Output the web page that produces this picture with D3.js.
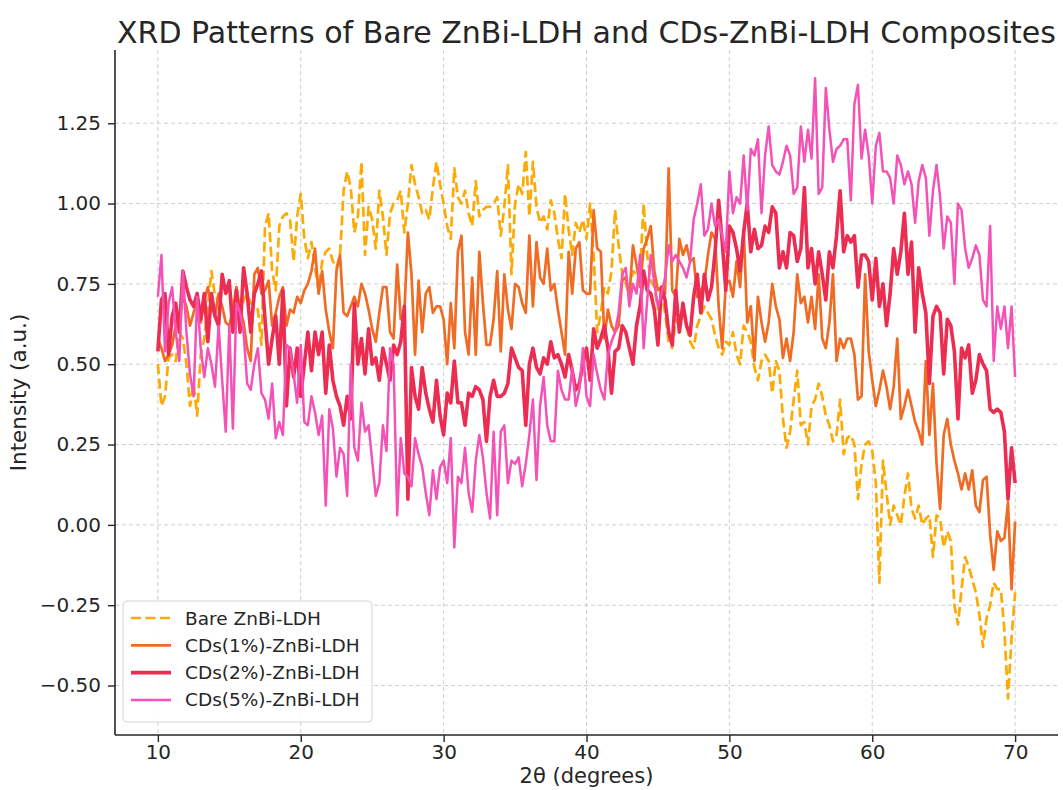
<!DOCTYPE html>
<meta charset="utf-8">
<style>
  body { margin: 0; background: #fff; }
  text { font-family: "DejaVu Sans", sans-serif; fill: #262626; }
</style>
<script src="https://d3js.org/d3.v7.min.js"></script>
<div id="chart"></div>
<script>
// 2theta sampling grid: 10 to 70 in 0.25 degree steps
var twoTheta = d3.range(241).map(function(i) { return 10 + i * 0.25; });

var bare = [
  0.50,0.37,0.40,0.52,0.53,0.51,0.60,0.58,0.50,0.37,
  0.44,0.34,0.53,0.58,0.68,0.79,0.71,0.70,0.72,0.72,
  0.74,0.67,0.74,0.64,0.70,0.72,0.69,0.68,0.67,0.56,
  0.93,0.97,0.79,0.73,0.93,0.96,0.97,0.95,0.82,0.96,
  1.03,0.89,0.83,0.88,0.80,0.73,0.82,0.85,0.86,0.82,
  0.80,0.84,1.04,1.10,1.05,0.91,0.96,1.13,0.84,0.99,
  0.95,0.86,1.04,0.96,0.84,0.97,1.00,1.01,1.04,0.91,
  1.00,1.12,1.06,1.02,0.97,0.98,0.95,1.05,1.13,1.06,
  1.00,0.93,0.89,1.11,1.02,1.00,1.04,0.97,0.93,1.07,
  0.96,0.98,0.99,0.99,1.00,1.02,0.90,0.99,1.12,0.78,
  1.00,1.06,1.03,1.16,0.96,1.13,0.99,0.94,0.96,0.92,
  1.01,0.97,0.89,0.83,1.03,0.92,0.84,0.94,0.91,0.95,
  0.89,1.00,0.84,0.60,0.66,0.74,0.72,0.79,0.98,0.87,
  0.78,0.75,0.72,0.79,0.78,0.79,1.00,0.84,0.76,0.74,
  0.67,0.72,0.66,0.57,0.55,0.64,0.62,0.67,0.62,0.57,
  0.55,0.62,0.65,0.68,0.66,0.64,0.59,0.55,0.53,0.57,
  0.56,0.60,0.53,0.50,0.62,0.60,0.57,0.49,0.45,0.51,
  0.53,0.51,0.41,0.51,0.48,0.33,0.24,0.29,0.39,0.48,
  0.31,0.32,0.25,0.37,0.39,0.44,0.40,0.34,0.31,0.26,
  0.28,0.39,0.22,0.27,0.28,0.25,0.08,0.19,0.25,0.26,
  0.23,0.13,-0.18,0.20,0.10,0.00,0.06,0.03,0.00,0.09,
  0.16,0.05,0.02,0.06,0.00,0.02,0.03,-0.10,0.03,0.02,
  -0.07,-0.02,-0.05,-0.25,-0.31,-0.20,-0.10,-0.13,-0.17,-0.21,
  -0.28,-0.38,-0.29,-0.25,-0.18,-0.20,-0.20,-0.33,-0.54,-0.35,
  -0.21
];

var cds1 = [
  0.58,0.55,0.51,0.53,0.56,0.62,0.64,0.71,0.68,0.62,
  0.66,0.70,0.63,0.70,0.74,0.68,0.65,0.72,0.68,0.63,
  0.62,0.67,0.74,0.67,0.63,0.55,0.51,0.78,0.80,0.72,
  0.73,0.76,0.62,0.66,0.71,0.74,0.62,0.67,0.66,0.71,
  0.69,0.73,0.75,0.79,0.86,0.72,0.79,0.67,0.60,0.55,
  0.79,0.84,0.66,0.65,0.68,0.71,0.68,0.75,0.72,0.67,
  0.61,0.57,0.66,0.74,0.74,0.60,0.58,0.81,0.64,0.66,
  0.91,0.78,0.53,0.76,0.60,0.72,0.74,0.66,0.68,0.68,
  0.64,0.50,0.69,0.55,0.85,0.90,0.60,0.53,0.77,0.53,
  0.85,0.69,0.56,0.56,0.64,0.79,0.54,0.78,0.67,0.61,
  0.75,0.74,0.69,0.66,0.90,0.68,0.88,0.77,0.75,0.86,
  0.73,0.75,0.67,0.60,0.53,0.85,0.72,0.86,0.88,0.73,
  0.72,0.72,0.98,0.86,0.85,0.58,0.67,0.62,0.60,0.62,
  0.76,0.77,0.71,0.87,0.81,0.74,0.86,0.89,0.93,0.79,
  0.73,0.74,0.72,1.11,0.73,0.71,0.89,0.84,0.87,0.82,
  0.83,0.71,0.73,0.75,0.84,0.91,0.89,0.68,0.55,0.75,
  0.76,0.71,0.82,0.74,0.92,0.63,0.68,0.51,0.71,0.63,
  0.57,0.63,0.75,0.68,0.64,0.52,0.58,0.51,0.60,0.78,
  0.69,0.71,0.63,0.71,0.61,0.78,0.58,0.55,0.63,0.78,
  0.51,0.58,0.55,0.58,0.58,0.53,0.39,0.40,0.78,0.54,
  0.45,0.37,0.42,0.48,0.43,0.36,0.43,0.58,0.33,0.37,
  0.42,0.37,0.32,0.29,0.25,0.51,0.28,0.44,0.19,0.05,
  0.28,0.33,0.25,0.20,0.16,0.11,0.16,0.11,0.17,0.06,
  0.04,0.14,0.15,-0.03,-0.14,-0.02,-0.05,-0.04,0.07,-0.20,
  0.01
];

var cds2 = [
  0.54,0.70,0.72,0.53,0.65,0.69,0.60,0.79,0.74,0.70,
  0.68,0.72,0.64,0.72,0.57,0.72,0.65,0.62,0.78,0.72,
  0.76,0.60,0.73,0.60,0.80,0.72,0.60,0.72,0.75,0.79,
  0.64,0.50,0.58,0.65,0.50,0.73,0.37,0.55,0.46,0.55,
  0.40,0.50,0.60,0.48,0.60,0.53,0.60,0.41,0.56,0.45,
  0.40,0.37,0.31,0.40,0.33,0.69,0.50,0.58,0.47,0.61,
  0.50,0.52,0.45,0.55,0.50,0.45,0.56,0.53,0.57,0.68,
  0.08,0.49,0.40,0.36,0.49,0.41,0.36,0.32,0.45,0.34,
  0.28,0.41,0.38,0.51,0.38,0.38,0.31,0.41,0.40,0.43,
  0.42,0.39,0.26,0.40,0.45,0.40,0.40,0.41,0.44,0.55,
  0.52,0.49,0.48,0.31,0.50,0.55,0.49,0.47,0.52,0.50,
  0.57,0.52,0.53,0.50,0.46,0.53,0.48,0.42,0.44,0.50,
  0.55,0.45,0.61,0.55,0.58,0.62,0.55,0.41,0.54,0.55,
  0.62,0.60,0.55,0.50,0.62,0.68,0.79,0.73,0.72,0.67,
  0.56,0.74,0.70,0.60,0.56,0.73,0.60,0.69,0.62,0.59,
  0.71,0.78,0.66,0.78,0.70,0.74,0.85,1.01,0.88,0.73,
  0.93,0.91,0.86,0.79,0.91,1.00,0.85,0.92,0.86,0.87,
  0.93,0.91,0.99,0.97,0.80,0.85,0.80,0.91,0.90,0.82,
  0.86,1.05,0.80,0.86,0.75,0.85,0.78,0.70,0.85,0.80,
  0.90,1.04,0.85,0.90,0.88,0.90,0.74,0.84,0.84,0.82,
  0.70,0.83,0.68,0.75,0.62,0.72,0.86,0.78,0.85,0.97,
  0.78,0.88,0.60,0.80,0.72,0.66,0.44,0.65,0.68,0.66,
  0.47,0.64,0.62,0.54,0.33,0.55,0.52,0.56,0.41,0.45,
  0.53,0.50,0.48,0.36,0.35,0.36,0.35,0.29,0.08,0.24,
  0.13
];

var cds5 = [
  0.71,0.84,0.54,0.69,0.74,0.60,0.51,0.79,0.60,0.47,
  0.40,0.71,0.55,0.46,0.55,0.50,0.43,0.62,0.45,0.29,
  0.62,0.30,0.69,0.66,0.60,0.44,0.42,0.50,0.55,0.41,
  0.39,0.33,0.44,0.27,0.32,0.28,0.56,0.55,0.47,0.38,
  0.56,0.32,0.31,0.40,0.35,0.28,0.34,0.06,0.36,0.30,
  0.15,0.24,0.22,0.09,0.50,0.24,0.20,0.38,0.29,0.31,
  0.20,0.09,0.13,0.31,0.23,0.55,0.50,0.03,0.27,0.16,
  0.15,0.12,0.27,0.22,0.18,0.10,0.03,0.17,0.08,0.18,
  0.20,0.13,0.27,-0.07,0.15,0.13,0.24,0.10,0.04,0.20,
  0.28,0.21,0.10,0.02,0.29,0.03,0.29,0.31,0.13,0.20,
  0.19,0.21,0.12,0.19,0.28,0.39,0.14,0.37,0.46,0.31,
  0.26,0.26,0.48,0.42,0.39,0.39,0.49,0.37,0.42,0.55,
  0.40,0.37,0.53,0.47,0.42,0.39,0.53,0.57,0.60,0.66,
  0.78,0.80,0.68,0.75,0.72,0.84,0.55,0.70,0.84,0.75,
  0.68,0.72,0.77,0.87,0.82,0.84,0.82,0.80,0.77,0.82,
  0.95,1.00,1.06,0.90,0.92,1.00,0.93,0.95,0.90,0.85,
  1.10,0.97,1.02,1.00,1.15,0.98,1.17,1.15,1.20,0.97,
  1.15,1.24,1.12,1.10,1.09,1.13,1.18,1.15,1.03,1.05,
  1.24,1.13,1.23,1.14,1.39,1.03,1.05,1.36,1.23,1.13,
  1.17,1.18,1.20,1.20,1.01,1.31,1.37,1.14,1.23,1.15,
  1.00,1.18,1.22,1.10,1.10,1.08,1.00,1.15,1.12,1.06,
  1.10,1.06,0.94,1.07,1.12,1.08,0.90,1.04,1.12,1.02,
  0.86,0.96,0.94,0.75,1.00,0.98,0.86,0.80,0.83,0.87,
  0.84,0.70,0.68,0.93,0.51,0.68,0.61,0.68,0.55,0.68,
  0.46
];

var seriesNames = ["Bare ZnBi-LDH", "CDs(1%)-ZnBi-LDH", "CDs(2%)-ZnBi-LDH", "CDs(5%)-ZnBi-LDH"];
var seriesColors = ["#FBAA06", "#F06B23", "#EC2D52", "#F452B7"];
var seriesWidths = [2.7, 2.7, 3.6, 2.5];
var seriesDash = ["10,4.5", null, null, null];
var xTicks = [10, 20, 30, 40, 50, 60, 70];
var yTicks = [-0.5, -0.25, 0, 0.25, 0.5, 0.75, 1.0, 1.25];

var W = 1063, H = 790;
var plot = {left: 115, right: 1058, top: 50, bottom: 735};

var svg = d3.select("#chart").append("svg")
  .attr("width", W).attr("height", H);

var x = d3.scaleLinear().domain([7, 73]).range([plot.left, plot.right]);
var y = d3.scaleLinear().domain([-0.654, 1.478]).range([plot.bottom, plot.top]);

// grid
svg.append("g").selectAll("line").data(xTicks).enter().append("line")
  .attr("x1", function(d) { return x(d); }).attr("x2", function(d) { return x(d); })
  .attr("y1", plot.top).attr("y2", plot.bottom)
  .attr("stroke", "#c8c8c8").attr("stroke-width", 0.9).attr("stroke-dasharray", "4,3");
svg.append("g").selectAll("line").data(yTicks).enter().append("line")
  .attr("x1", plot.left).attr("x2", plot.right)
  .attr("y1", function(d) { return y(d); }).attr("y2", function(d) { return y(d); })
  .attr("stroke", "#c8c8c8").attr("stroke-width", 0.9).attr("stroke-dasharray", "4,3");

// lines
var allSeries = [bare, cds1, cds2, cds5];
var line = d3.line()
  .x(function(d, i) { return x(twoTheta[i]); })
  .y(function(d) { return y(d); });

allSeries.forEach(function(s, k) {
  svg.append("path")
    .datum(s)
    .attr("fill", "none")
    .attr("stroke", seriesColors[k])
    .attr("stroke-width", seriesWidths[k])
    .attr("stroke-linejoin", "round")
    .attr("stroke-dasharray", seriesDash[k])
    .attr("d", line);
});

// axes
var xAxis = svg.append("g")
  .attr("transform", "translate(0," + plot.bottom + ")")
  .call(d3.axisBottom(x).tickValues(xTicks).tickSize(7).tickPadding(3).tickFormat(d3.format("d")));
var yAxis = svg.append("g")
  .attr("transform", "translate(" + plot.left + ",0)")
  .call(d3.axisLeft(y).tickValues(yTicks).tickSize(7).tickPadding(7).tickFormat(d3.format(".2f")));
[xAxis, yAxis].forEach(function(a) {
  a.select(".domain").attr("stroke", "#262626").attr("stroke-width", 1.6);
  a.selectAll(".tick line").attr("stroke", "#262626").attr("stroke-width", 1.4);
  a.selectAll(".tick text").attr("font-size", 20).attr("fill", "#262626")
    .style("font-family", "'DejaVu Sans', sans-serif");
});
yAxis.selectAll(".tick text").text(function(d) { return d3.format(".2f")(d).replace("-", "\u2212"); });
xAxis.select(".domain").attr("d", "M" + plot.left + ",0H" + plot.right);
yAxis.select(".domain").attr("d", "M0," + plot.top + "V" + plot.bottom);

// title and labels
svg.append("text")
  .attr("x", (plot.left + plot.right) / 2).attr("y", 43)
  .attr("text-anchor", "middle").attr("font-size", 30)
  .text("XRD Patterns of Bare ZnBi-LDH and CDs-ZnBi-LDH Composites");
svg.append("text")
  .attr("x", (plot.left + plot.right) / 2).attr("y", 783)
  .attr("text-anchor", "middle").attr("font-size", 21)
  .text("2\u03b8 (degrees)");
svg.append("text")
  .attr("transform", "translate(26," + ((plot.top + plot.bottom) / 2) + ") rotate(-90)")
  .attr("text-anchor", "middle").attr("font-size", 21.5)
  .text("Intensity (a.u.)");

// legend
var legend = svg.append("g");
legend.append("rect")
  .attr("x", 123).attr("y", 601).attr("width", 249).attr("height", 121)
  .attr("rx", 4).attr("fill", "#fff").attr("fill-opacity", 0.85)
  .attr("stroke", "#d4d4d4").attr("stroke-width", 1);
seriesNames.forEach(function(name, k) {
  var ly = 618 + k * 27.3;
  legend.append("line")
    .attr("x1", 131).attr("x2", 171).attr("y1", ly).attr("y2", ly)
    .attr("stroke", seriesColors[k]).attr("stroke-width", seriesWidths[k])
    .attr("stroke-dasharray", seriesDash[k]);
  legend.append("text")
    .attr("x", 185).attr("y", ly + 6.5).attr("font-size", 18.5)
    .text(name);
});
</script>
